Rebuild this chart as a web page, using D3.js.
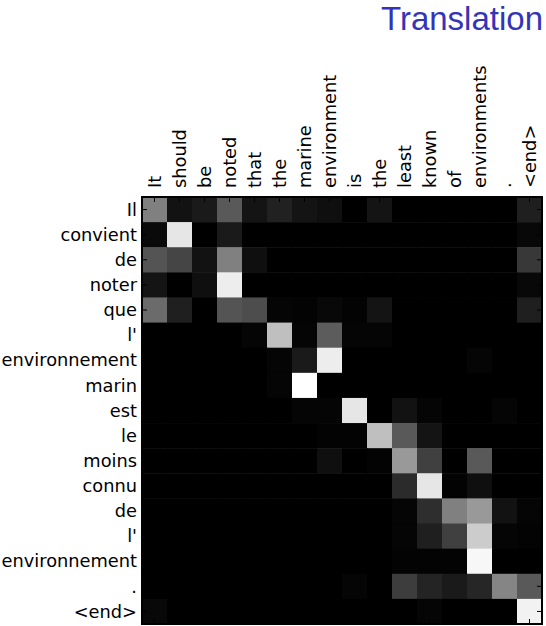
<!DOCTYPE html>
<html>
<head>
<meta charset="utf-8">
<script src="https://cdn.jsdelivr.net/npm/d3@7"></script>
<style>
  body { margin: 0; background: #fff; }
  svg { display: block; }
</style>
</head>
<body>
<div id="chart"></div>
<script>
// source sentence (columns) and translation (rows)
var srcWords = ["It", "should", "be", "noted", "that", "the", "marine", "environment",
                "is", "the", "least", "known", "of", "environments", ".", "<end>"];
var tgtWords = ["Il", "convient", "de", "noter", "que", "l'", "environnement", "marin",
                "est", "le", "moins", "connu", "de", "l'", "environnement", ".", "<end>"];

// attention weights, one array per output word
var attIl       = [0.50, 0.07, 0.10, 0.35, 0.08, 0.13, 0.08, 0.06, 0.00, 0.08, 0, 0, 0, 0, 0, 0.12];
var attConvient = [0.04, 0.90, 0.00, 0.10, 0, 0, 0, 0, 0, 0, 0, 0, 0, 0, 0, 0.03];
var attDe1      = [0.33, 0.27, 0.07, 0.50, 0.06, 0, 0, 0, 0, 0, 0, 0, 0, 0, 0, 0.22];
var attNoter    = [0.08, 0.00, 0.06, 0.93, 0, 0, 0, 0, 0, 0, 0, 0, 0, 0, 0, 0.03];
var attQue      = [0.42, 0.12, 0.00, 0.33, 0.30, 0.02, 0.01, 0.03, 0.01, 0.08, 0, 0, 0, 0, 0, 0.12];
var attL1       = [0, 0, 0, 0, 0.02, 0.75, 0.02, 0.36, 0.02, 0.02, 0, 0, 0, 0, 0, 0];
var attEnv1     = [0, 0, 0, 0, 0, 0.02, 0.10, 0.93, 0, 0, 0, 0, 0, 0.02, 0, 0];
var attMarin    = [0, 0, 0, 0, 0, 0.02, 1.00, 0, 0, 0, 0, 0, 0, 0, 0, 0];
var attEst      = [0, 0, 0, 0, 0, 0, 0.02, 0.02, 0.90, 0, 0.07, 0.02, 0, 0, 0.02, 0];
var attLe       = [0, 0, 0, 0, 0, 0, 0, 0.01, 0.01, 0.75, 0.35, 0.08, 0, 0, 0, 0];
var attMoins    = [0, 0, 0, 0, 0, 0, 0, 0.06, 0, 0.01, 0.60, 0.25, 0, 0.35, 0, 0];
var attConnu    = [0, 0, 0, 0, 0, 0, 0, 0, 0, 0, 0.17, 0.90, 0.01, 0.06, 0, 0];
var attDe2      = [0, 0, 0, 0, 0, 0, 0, 0, 0, 0, 0.02, 0.18, 0.50, 0.60, 0.07, 0.02];
var attL2       = [0, 0, 0, 0, 0, 0, 0, 0, 0, 0, 0.02, 0.12, 0.25, 0.80, 0.02, 0.01];
var attEnv2     = [0, 0, 0, 0, 0, 0, 0, 0, 0, 0, 0.01, 0.01, 0.01, 0.97, 0, 0];
var attDot      = [0, 0, 0, 0, 0, 0, 0, 0, 0.02, 0, 0.24, 0.14, 0.10, 0.15, 0.52, 0.35];
var attEnd      = [0.03, 0, 0, 0, 0, 0, 0, 0, 0, 0, 0, 0.02, 0, 0, 0, 0.95];

var attention = [attIl, attConvient, attDe1, attNoter, attQue, attL1, attEnv1, attMarin,
                 attEst, attLe, attMoins, attConnu, attDe2, attL2, attEnv2, attDot, attEnd];

var W = 546, H = 626;
var gx0 = 142, gx1 = 542, gy0 = 197, gy1 = 624;

var svg = d3.select("#chart").append("svg")
    .attr("width", W)
    .attr("height", H);

var x = d3.scaleBand()
    .domain(d3.range(srcWords.length))
    .range([gx0, gx1]);
var y = d3.scaleBand()
    .domain(d3.range(tgtWords.length))
    .range([gy0, gy1]);
var gray = d3.scaleLinear()
    .domain([0, 1])
    .range(["#000", "#fff"]);

// cells
var cells = [];
attention.forEach(function(row, i) {
  row.forEach(function(v, j) { cells.push({r: i, c: j, v: v}); });
});
svg.append("g")
  .selectAll("rect")
  .data(cells)
  .enter()
  .append("rect")
    .attr("x", function(d){ return x(d.c); })
    .attr("y", function(d){ return y(d.r); })
    .attr("width", x.bandwidth() + 0.5)
    .attr("height", y.bandwidth() + 0.5)
    .attr("fill", function(d){ return gray(d.v); });

// inward ticks on all four sides
var tl = 5;
var ticks = svg.append("g").attr("stroke", "#000").attr("stroke-width", 1);
srcWords.forEach(function(w, j) {
  var cx = x(j) + x.bandwidth() / 2;
  ticks.append("line").attr("x1", cx).attr("x2", cx).attr("y1", gy0).attr("y2", gy0 + tl);
  ticks.append("line").attr("x1", cx).attr("x2", cx).attr("y1", gy1).attr("y2", gy1 - tl);
});
tgtWords.forEach(function(w, i) {
  var cy = y(i) + y.bandwidth() / 2;
  ticks.append("line").attr("y1", cy).attr("y2", cy).attr("x1", gx0).attr("x2", gx0 + tl);
  ticks.append("line").attr("y1", cy).attr("y2", cy).attr("x1", gx1).attr("x2", gx1 - tl);
});

// frame
svg.append("rect")
    .attr("x", gx0)
    .attr("y", gy0)
    .attr("width", gx1 - gx0)
    .attr("height", gy1 - gy0)
    .attr("fill", "none")
    .attr("stroke", "#000")
    .attr("stroke-width", 2);

// column labels (rotated)
svg.append("g")
  .selectAll("text")
  .data(srcWords)
  .enter()
  .append("text")
    .attr("transform", function(d, j){
      return "translate(" + (x(j) + x.bandwidth() / 2) + "," + (gy0 - 9) + ") rotate(-90)";
    })
    .attr("dy", "0.35em")
    .attr("text-anchor", "start")
    .style("font-family", "DejaVu Sans")
    .style("font-size", "17.8px")
    .attr("fill", "#000")
    .text(function(d){ return d; });

// row labels
svg.append("g")
  .selectAll("text")
  .data(tgtWords)
  .enter()
  .append("text")
    .attr("x", gx0 - 5)
    .attr("y", function(d, i){ return y(i) + y.bandwidth() / 2; })
    .attr("dy", "0.35em")
    .attr("text-anchor", "end")
    .style("font-family", "DejaVu Sans")
    .style("font-size", "17.8px")
    .attr("fill", "#000")
    .text(function(d){ return d; });

// title
svg.append("text")
    .attr("x", 543)
    .attr("y", 30)
    .attr("text-anchor", "end")
    .style("font-family", "Liberation Sans")
    .style("font-size", "33px")
    .attr("fill", "#3434b8")
    .text("Translation");
</script>
</body>
</html>
